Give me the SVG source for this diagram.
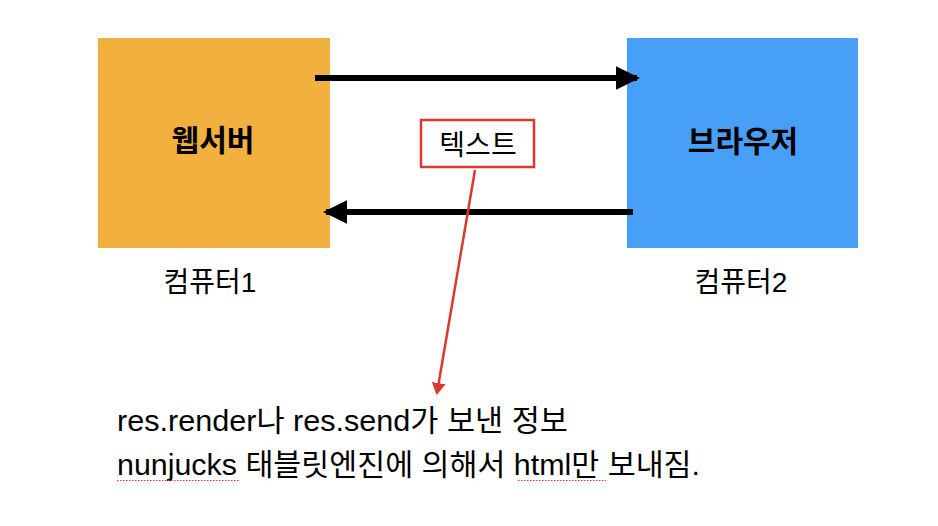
<svg xmlns="http://www.w3.org/2000/svg" width="938" height="526" viewBox="0 0 938 526">
<style>
text{font-family:"Liberation Sans","Noto Sans CJK KR",sans-serif;fill:#000}
.title{font-size:30px;font-weight:bold}
.cap{font-size:28px}
.body{font-size:30px}
.blk{stroke:#000;stroke-width:6;fill:none}
.red{stroke:#d93b2b;stroke-width:2.5;fill:none}
.sq{stroke:#e03030;stroke-width:1.2;stroke-dasharray:1.5 1.5;fill:none}
</style>
<defs>
<marker id="ab" markerWidth="4" markerHeight="3.9" refX="3.5" refY="1.95" orient="auto" markerUnits="strokeWidth" viewBox="0 0 4 3.9">
<path d="M0,0 L4,1.95 L0,3.9 Z" fill="#000"/>
</marker>
<marker id="ar" markerWidth="12" markerHeight="14" refX="10" refY="7" orient="auto" markerUnits="userSpaceOnUse" viewBox="0 0 12 14">
<path d="M0,0 L12,7 L0,14 Z" fill="#d93b2b"/>
</marker>
</defs>
<rect width="938" height="526" fill="#fff"/>
<g id="webserver">
<rect x="98" y="38" width="232" height="210" fill="#f2b13e"/>
<text class="title" x="213" y="151" text-anchor="middle">웹서버</text>
</g>
<g id="browser">
<rect x="627" y="38" width="231" height="210" fill="#479ff8"/>
<text class="title" x="743" y="152" text-anchor="middle">브라우저</text>
</g>
<g id="label-computer1"><text class="cap" x="210" y="292" text-anchor="middle">컴퓨터1</text></g>
<g id="label-computer2"><text class="cap" x="741" y="292" text-anchor="middle">컴퓨터2</text></g>
<g id="connectors">
<line class="blk" x1="315" y1="78" x2="637" y2="78" marker-end="url(#ab)"/>
<line class="blk" x1="633" y1="212" x2="326" y2="212" marker-end="url(#ab)"/>
<line class="red" x1="475" y1="170" x2="437" y2="393" marker-end="url(#ar)"/>
</g>
<g id="textbox">
<rect x="421" y="120" width="113" height="47" fill="#fff" stroke="#d93b2b" stroke-width="2.5"/>
<text class="cap" x="478" y="155" text-anchor="middle">텍스트</text>
</g>
<g id="note">
<text class="body" x="117" y="431" textLength="451" lengthAdjust="spacingAndGlyphs">res.render나 res.send가 보낸 정보</text>
<text class="body" x="117" y="475" textLength="583" lengthAdjust="spacingAndGlyphs">nunjucks 태블릿엔진에 의해서 html만 보내짐.</text>
<line class="sq" x1="117" y1="480.5" x2="240" y2="480.5"/>
<line class="sq" x1="518" y1="480.5" x2="606" y2="480.5"/>
</g>
</svg>
